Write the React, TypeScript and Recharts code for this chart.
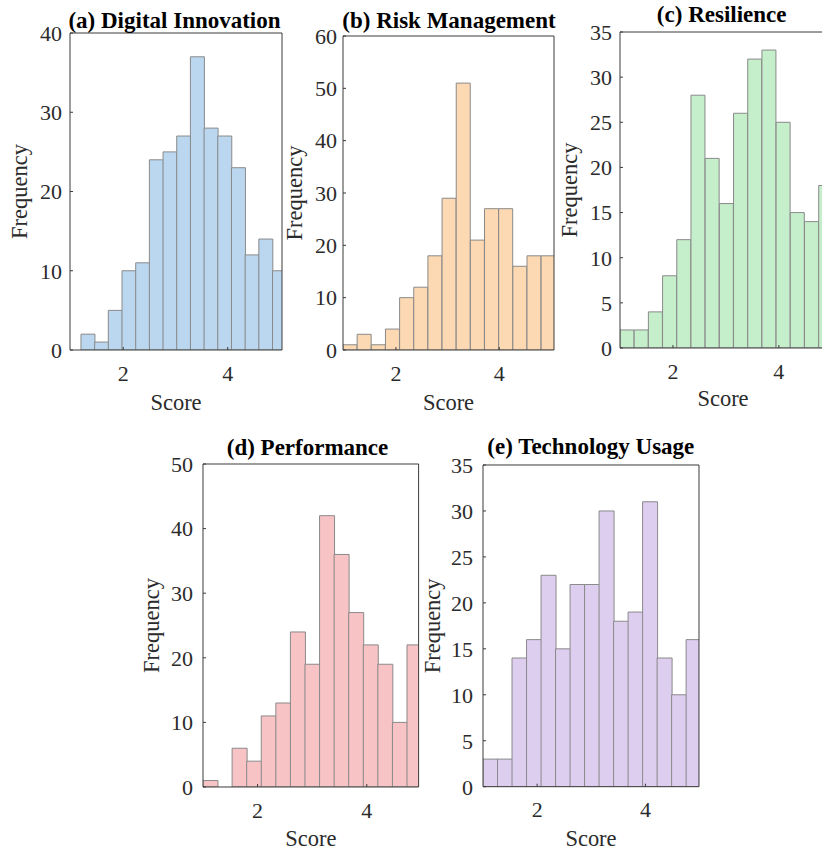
import React from 'react';
import { BarChart, Bar, XAxis, YAxis } from 'recharts';

// Bin centres (Score) and frequencies for each panel
const binsA = [1.321, 1.583, 1.845, 2.107, 2.369, 2.631, 2.893, 3.155, 3.417, 3.679, 3.941, 4.203, 4.465, 4.727, 4.989];
const countsA = [2, 1, 5, 10, 11, 24, 25, 27, 37, 28, 27, 23, 12, 14, 10];

const binsB = [1.112, 1.386, 1.66, 1.934, 2.208, 2.482, 2.756, 3.03, 3.304, 3.578, 3.852, 4.126, 4.4, 4.674, 4.948];
const countsB = [1, 3, 1, 4, 10, 12, 18, 29, 51, 21, 27, 27, 16, 18, 18];

const binsC = [1.134, 1.402, 1.67, 1.938, 2.206, 2.474, 2.742, 3.01, 3.278, 3.546, 3.814, 4.082, 4.35, 4.618, 4.886];
const countsC = [2, 2, 4, 8, 12, 28, 21, 16, 26, 32, 33, 25, 15, 14, 18];

const binsD = [1.133, 1.4, 1.667, 1.934, 2.201, 2.468, 2.735, 3.002, 3.269, 3.536, 3.803, 4.07, 4.337, 4.604, 4.871];
const countsD = [1, 0, 6, 4, 11, 13, 24, 19, 42, 36, 27, 22, 19, 10, 22];

const binsE = [1.134, 1.402, 1.67, 1.938, 2.206, 2.474, 2.742, 3.01, 3.278, 3.546, 3.814, 4.082, 4.35, 4.618, 4.886];
const countsE = [3, 3, 14, 16, 23, 15, 22, 22, 30, 18, 19, 31, 14, 10, 16];

const xTicks = [2, 4];
const yTicksA = [0, 10, 20, 30, 40];
const yTicksB = [0, 10, 20, 30, 40, 50, 60];
const yTicksC = [0, 5, 10, 15, 20, 25, 30, 35];
const yTicksD = [0, 10, 20, 30, 40, 50];
const yTicksE = [0, 5, 10, 15, 20, 25, 30, 35];

const FONT = '"Liberation Serif", "Times New Roman", serif';
const TEXT = '#2b2b2b';
const AXIS = '#3a3a3a';
const EDGE = '#8a8a8a';

type PanelProps = {
  title: string;
  bins: number[];
  counts: number[];
  color: string;
  xDomain: [number, number];
  yTicks: number[];
  left: number;
  top: number;
  right: number;
  bottom: number;
  ylabW: number;
  xlabH: number;
  yGap: number;
  titleX: number;
  titleBase: number;
};

function Panel(p: PanelProps) {
  const T = 24;
  const R = 6;
  const plotW = p.right - p.left;
  const plotH = p.bottom - p.top;
  const width = p.ylabW + plotW + 1 + R;
  const height = T + 1 + plotH + p.xlabH;
  const data = p.bins.map((x, i) => ({ x, count: p.counts[i] }));
  const yDomain: [number, number] = [0, p.yTicks[p.yTicks.length - 1]];
  const tickStyle = { fontSize: 22, fill: TEXT, fontFamily: FONT };
  return (
    <>
      <div style={{ position: 'absolute', left: p.left - p.ylabW, top: p.top - T - 1 }}>
        <BarChart
          width={width}
          height={height}
          data={data}
          margin={{ top: T, right: R, bottom: 0, left: 0 }}
          barCategoryGap={0}
          barGap={0}
        >
          <XAxis
            dataKey="x"
            type="number"
            domain={p.xDomain}
            allowDataOverflow
            ticks={xTicks}
            interval={0}
            height={p.xlabH}
            tickSize={-3}
            tickMargin={18}
            axisLine={{ stroke: AXIS }}
            tickLine={{ stroke: AXIS }}
            tick={tickStyle}
            label={{ value: 'Score', position: 'center', fontSize: 22.5, fill: TEXT, fontFamily: FONT }}
          />
          <XAxis
            xAxisId="top"
            orientation="top"
            type="number"
            domain={p.xDomain}
            allowDataOverflow
            ticks={xTicks}
            interval={0}
            height={1}
            tickSize={-3}
            axisLine={{ stroke: AXIS }}
            tickLine={{ stroke: AXIS }}
            tick={false}
          />
          <YAxis
            type="number"
            domain={yDomain}
            allowDataOverflow
            ticks={p.yTicks}
            interval={0}
            width={p.ylabW}
            tickSize={-3}
            tickMargin={p.yGap + 3}
            axisLine={{ stroke: AXIS }}
            tickLine={{ stroke: AXIS }}
            tick={tickStyle}
            label={{ value: 'Frequency', angle: -90, position: 'center', fontSize: 22.5, fill: TEXT, fontFamily: FONT }}
          />
          <YAxis
            yAxisId="right"
            orientation="right"
            type="number"
            domain={yDomain}
            allowDataOverflow
            ticks={p.yTicks}
            interval={0}
            width={1}
            tickSize={-3}
            axisLine={{ stroke: AXIS }}
            tickLine={{ stroke: AXIS }}
            tick={false}
          />
          <Bar dataKey="count" fill={p.color} stroke={EDGE} strokeWidth={1} isAnimationActive={false} />
        </BarChart>
      </div>
      <div
        style={{
          position: 'absolute',
          left: p.titleX - 200,
          width: 400,
          top: p.titleBase - 19.3,
          textAlign: 'center',
          fontFamily: FONT,
          fontWeight: 'bold',
          fontSize: 23,
          lineHeight: '23px',
          color: '#000',
          whiteSpace: 'nowrap',
          pointerEvents: 'none',
        }}
      >
        {p.title}
      </div>
    </>
  );
}

export default function App() {
  return (
    <div
      style={{
        position: 'absolute',
        left: 0,
        top: 0,
        width: 822,
        height: 853,
        overflow: 'hidden',
        background: '#ffffff',
      }}
    >
      <Panel
        title="(a) Digital Innovation"
        bins={binsA}
        counts={countsA}
        color="#bad7ef"
        xDomain={[0.98, 5.04]}
        yTicks={yTicksA}
        left={70}
        top={33}
        right={282}
        bottom={350}
        ylabW={101}
        xlabH={104}
        yGap={8}
        titleX={174.5}
        titleBase={28}
      />
      <Panel
        title="(b) Risk Management"
        bins={binsB}
        counts={countsB}
        color="#fcd9b2"
        xDomain={[0.975, 5.06]}
        yTicks={yTicksB}
        left={343}
        top={36}
        right={554}
        bottom={350}
        ylabW={98}
        xlabH={104}
        yGap={6}
        titleX={449}
        titleBase={28}
      />
      <Panel
        title="(c) Resilience"
        bins={binsC}
        counts={countsC}
        color="#c5eecb"
        xDomain={[1, 4.89]}
        yTicks={yTicksC}
        left={620}
        top={32}
        right={826}
        bottom={348}
        ylabW={101}
        xlabH={100}
        yGap={8}
        titleX={721.7}
        titleBase={22}
      />
      <Panel
        title="(d) Performance"
        bins={binsD}
        counts={countsD}
        color="#f8c3c5"
        xDomain={[1, 4.95]}
        yTicks={yTicksD}
        left={202.7}
        top={464}
        right={418.3}
        bottom={787}
        ylabW={104}
        xlabH={103}
        yGap={10}
        titleX={307.5}
        titleBase={455}
      />
      <Panel
        title="(e) Technology Usage"
        bins={binsE}
        counts={countsE}
        color="#ddcdee"
        xDomain={[1, 4.99]}
        yTicks={yTicksE}
        left={483.3}
        top={465}
        right={699.3}
        bottom={786.7}
        ylabW={102}
        xlabH={102}
        yGap={10}
        titleX={590.8}
        titleBase={454}
      />
    </div>
  );
}
